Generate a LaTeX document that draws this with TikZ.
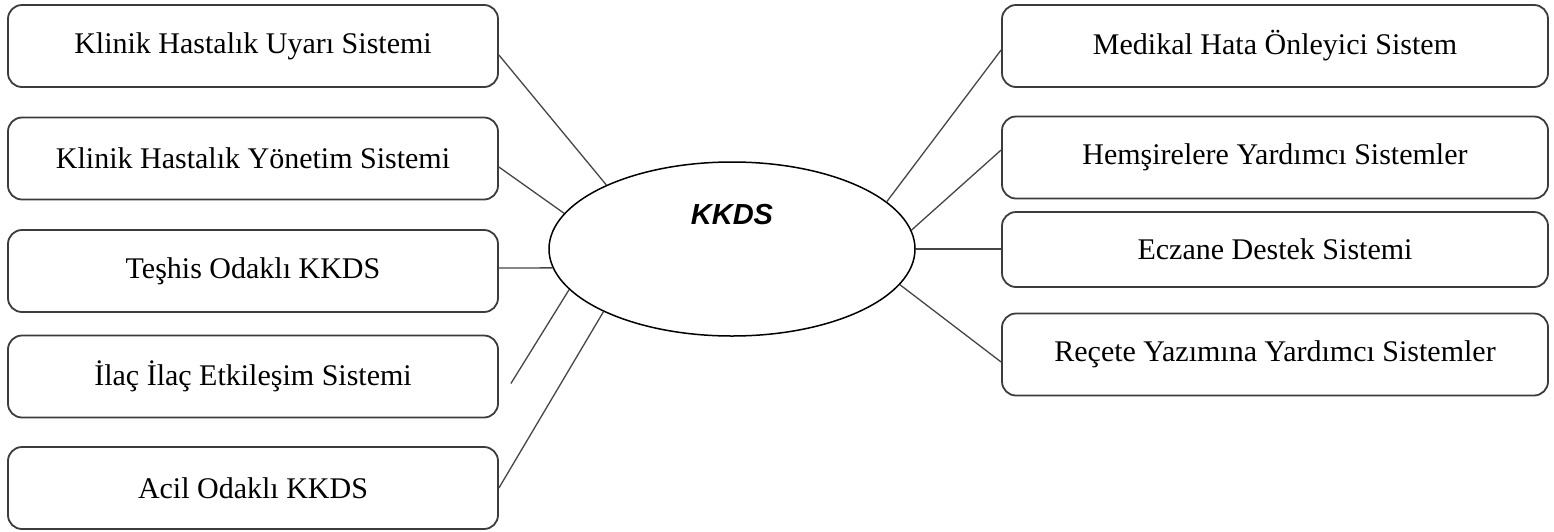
\documentclass[tikz,border=0pt]{standalone}
\usepackage{fontspec}
\setmainfont{Liberation Serif}
\newfontfamily\kkdsfont{Liberation Sans}
\usetikzlibrary{shapes.geometric}
\definecolor{edgegray}{HTML}{3C3C3C}
\definecolor{linegray}{HTML}{464646}
\begin{document}
\begin{tikzpicture}[x=1pt,y=-1pt,
  sysbox/.style={draw=edgegray,line width=1.8pt,rounded corners=14pt,inner sep=0pt,
    font=\fontsize{30}{34}\selectfont,text=black},
  leftbox/.style={sysbox,minimum width=490pt,minimum height=82pt},
  rightbox/.style={sysbox,minimum width=546pt,minimum height=82pt},
  hub/.style={draw=black,line width=1.5pt,ellipse,minimum width=366pt,minimum height=174pt,inner sep=0pt},
  link/.style={draw=linegray,line width=1.3pt}]
\useasboundingbox (0,0) rectangle (1554,531);
\fill[white] (0,0) rectangle (1554,531);

% left boxes
\node[leftbox] (l1) at (253,46) {Klinik Hastalık Uyarı Sistemi};
\node[leftbox] (l2) at (253,158.5) {Klinik Hastalık Yönetim Sistemi};
\node[leftbox] (l3) at (253,271) {Teşhis Odaklı KKDS};
\node[leftbox] (l4) at (253,376.5) {İlaç İlaç Etkileşim Sistemi};
\node[leftbox] (l5) at (253,488) {Acil Odaklı KKDS};

% right boxes
\node[rightbox] (r1) at (1275,46) {Medikal Hata Önleyici Sistem};
\node[rightbox] (r2) at (1275,157.5) {Hemşirelere Yardımcı Sistemler};
\node[rightbox,minimum height=75pt] (r3) at (1275,249.5) {Eczane Destek Sistemi};
\node[rightbox] (r4) at (1275,354.5) {Reçete Yazımına Yardımcı Sistemler};

% hub
\node[hub] (e) at (732,249) {};
\node[font=\kkdsfont\bfseries\itshape\fontsize{29}{33}\selectfont] (t) at (732,215) {KKDS};

% connectors
\coordinate (l4end) at ([shift={(12pt,-7pt)}]l4.east);
\draw[link] ([yshift=-9pt]l1.east) -- (e.153.3);
\draw[link] ([yshift=-8.5pt]l2.east) -- (e.168.2);
\draw[link] ([yshift=3pt]l3.east) -- (e.186.2);
\draw[link] (l4end) -- (e.194.4);
\draw[link] (l5.east) -- (e.206.7);

\draw[link] (e.17.4) -- ([yshift=-4pt]r1.west);
\draw[link] (e.6.2) -- ([yshift=7.5pt]r2.west);
\draw[link] (e.east) -- (e.east -| r3.west);
\draw[link] (e.-12.6) -- ([yshift=-7.5pt]r4.west);
\end{tikzpicture}
\end{document}
